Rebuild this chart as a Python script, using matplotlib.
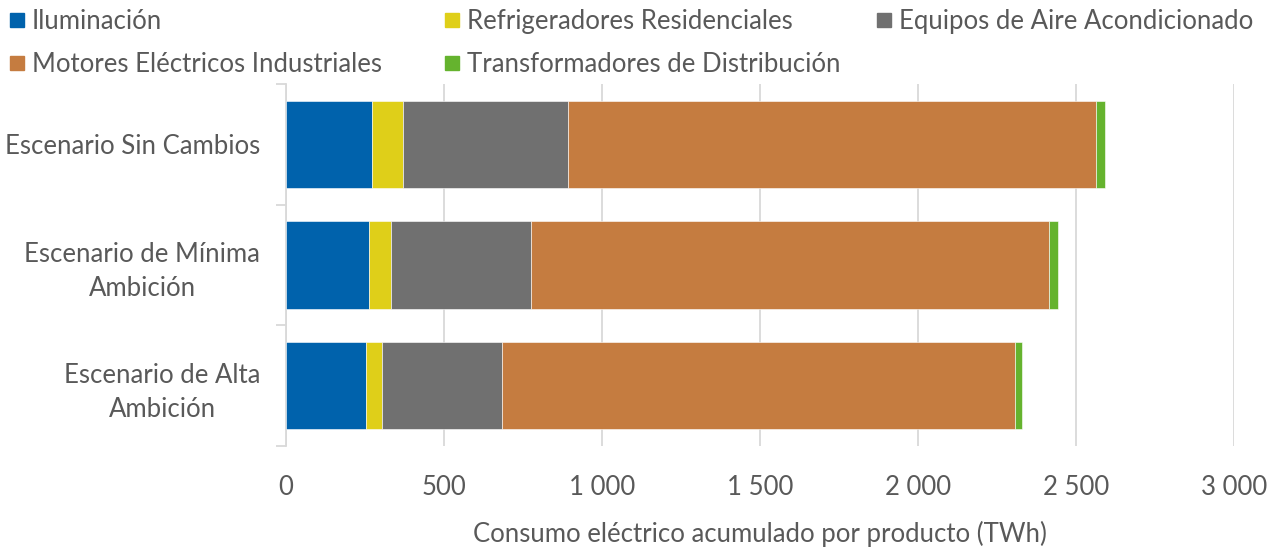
import matplotlib
matplotlib.use("Agg")
import matplotlib.pyplot as plt
from matplotlib.patches import Rectangle
import numpy as np

plt.rcParams['font.family'] = ['Lato', 'DejaVu Sans']

categories = ["Escenario Sin Cambios", "Escenario de Mínima\nAmbición", "Escenario de Alta\nAmbición"]
series_names = ["Iluminación", "Refrigeradores Residenciales", "Equipos de Aire Acondicionado",
                "Motores Eléctricos Industriales", "Transformadores de Distribución"]
iluminacion = [273, 263, 253]
refrigeradores = [98, 69, 52]
aire = [522, 444, 379]
motores = [1669, 1640, 1624]
transformadores = [31, 26, 22]
colors = ["#0062AC", "#DFCF19", "#707070", "#C57C40", "#65B32E"]
xticks = [0, 500, 1000, 1500, 2000, 2500, 3000]
xticklabels = ["0", "500", "1 000", "1 500", "2 000", "2 500", "3 000"]
xlabel = "Consumo eléctrico acumulado por producto (TWh)"

W, H = 1276, 548
fig = plt.figure(figsize=(W / 100, H / 100), dpi=100)
ax = fig.add_axes([286 / W, 1 - 446 / H, (1234 - 286) / W, (446 - 84) / H])

txt = "#595959"
fs = 18.5
series = [iluminacion, refrigeradores, aire, motores, transformadores]
y = np.arange(len(categories))
left = np.zeros(len(categories))
for vals, c in zip(series, colors):
    ax.barh(y, vals, left=left, height=0.726, color=c, edgecolor="white", linewidth=0.4, zorder=3)
    left += np.array(vals)

ax.set_xlim(0, 3000)
ax.set_ylim(len(categories) - 0.5, -0.5)
ax.set_xticks(xticks)
ax.set_xticklabels(xticklabels)
ax.xaxis.grid(True, color="#D9D9D9", linewidth=1.3, zorder=0)
ax.tick_params(axis="x", length=0, pad=21, labelsize=fs, labelcolor=txt)

ax.set_yticks(y)
ax.set_yticklabels(categories, multialignment="center", linespacing=1.45)
ax.set_yticks(np.arange(-0.5, len(categories)), minor=True)
ax.tick_params(axis="y", which="major", length=0, pad=18.5, labelsize=fs, labelcolor=txt)
ax.tick_params(axis="y", which="minor", length=7, width=1.3, color="#D9D9D9")

for s in ["top", "right", "bottom"]:
    ax.spines[s].set_visible(False)
ax.spines["left"].set_color("#D9D9D9")
ax.spines["left"].set_linewidth(1.3)

# x-axis title, centred under the plot area
fig.text((286 + 1234) / 2 / W, 1 - 542 / H, xlabel, fontsize=fs, color=txt,
         ha="center", va="baseline")

# legend
leg_pos = [(10, 20), (445, 20), (877, 20), (10, 63), (445, 63)]
for (px, py), name, c in zip(leg_pos, series_names, colors):
    fig.add_artist(Rectangle((px / W, 1 - (py + 7) / H), 14 / W, 14 / H, color=c, transform=fig.transFigure))
    fig.text((px + 22) / W, 1 - (py + 1.5) / H, name, fontsize=fs, color=txt, va="center", ha="left")

fig.savefig("out.png", dpi=100)
